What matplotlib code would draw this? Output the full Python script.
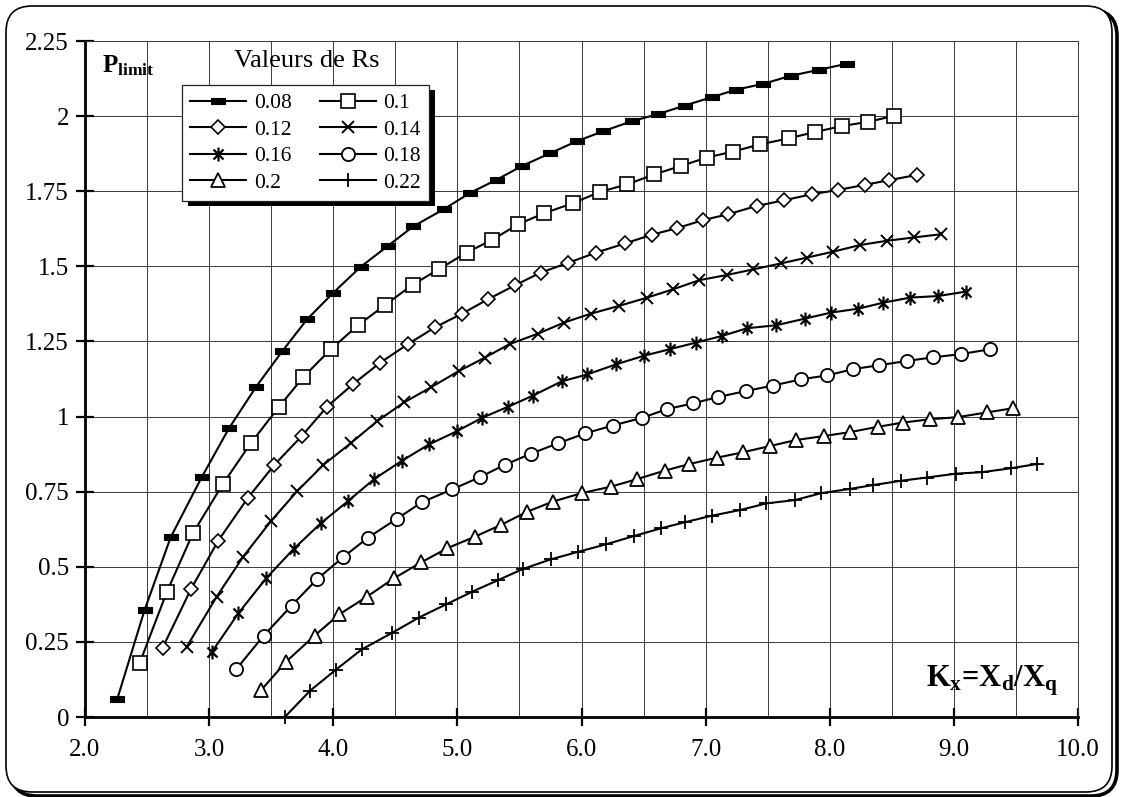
import numpy as np
import matplotlib
matplotlib.use("Agg")
import matplotlib.pyplot as plt
from matplotlib.patches import FancyBboxPatch, Rectangle
from matplotlib.path import Path
from matplotlib.transforms import IdentityTransform
from matplotlib.ticker import FixedLocator, FixedFormatter, MultipleLocator

plt.rcParams['font.family'] = 'Liberation Serif'
plt.rcParams['mathtext.fontset'] = 'custom'
plt.rcParams['mathtext.rm'] = 'Liberation Serif'
plt.rcParams['mathtext.bf'] = 'Liberation Serif:bold'
plt.rcParams['mathtext.it'] = 'Liberation Serif:italic'

# ---- data: P_limit versus Kx = Xd/Xq for several stator resistances Rs ----
rs_labels = ['0.08', '0.1', '0.12', '0.14', '0.16', '0.18', '0.2', '0.22']

kx_008 = [2.26, 2.48, 2.69, 2.94, 3.16, 3.38, 3.59, 3.79, 4.00, 4.22, 4.44, 4.645, 4.89, 5.10,
          5.32, 5.52, 5.75, 5.96, 6.17, 6.405, 6.62, 6.83, 7.05, 7.245, 7.46, 7.685, 7.91, 8.135]
p_008 = [0.06, 0.356, 0.598, 0.798, 0.961, 1.10, 1.218, 1.324, 1.412, 1.498, 1.568, 1.633, 1.690, 1.744,
         1.789, 1.834, 1.877, 1.916, 1.949, 1.983, 2.007, 2.035, 2.063, 2.088, 2.107, 2.134, 2.154, 2.174]

kx_010 = [2.44, 2.66, 2.87, 3.11, 3.335, 3.56, 3.76, 3.98, 4.20, 4.42, 4.64, 4.85, 5.075, 5.28, 5.49,
          5.70, 5.93, 6.15, 6.37, 6.585, 6.80, 7.01, 7.22, 7.44, 7.67, 7.88, 8.10, 8.31, 8.52]
p_010 = [0.179, 0.417, 0.612, 0.775, 0.911, 1.031, 1.132, 1.224, 1.304, 1.372, 1.439, 1.490, 1.546, 1.588, 1.640,
         1.677, 1.710, 1.748, 1.773, 1.806, 1.834, 1.862, 1.882, 1.906, 1.926, 1.947, 1.967, 1.981, 2.001]

kx_012 = [2.626, 2.854, 3.074, 3.31, 3.525, 3.746, 3.95, 4.16, 4.377, 4.605, 4.82, 5.04, 5.245, 5.465, 5.67,
          5.895, 6.12, 6.35, 6.565, 6.77, 6.98, 7.18, 7.41, 7.635, 7.855, 8.065, 8.28, 8.48, 8.70]
p_012 = [0.231, 0.426, 0.587, 0.728, 0.839, 0.935, 1.033, 1.108, 1.179, 1.242, 1.297, 1.343, 1.390, 1.437, 1.479,
         1.512, 1.546, 1.576, 1.605, 1.627, 1.654, 1.673, 1.701, 1.720, 1.740, 1.754, 1.771, 1.787, 1.804]

kx_014 = [2.82, 3.06, 3.275, 3.50, 3.71, 3.92, 4.14, 4.355, 4.57, 4.79, 5.01, 5.22, 5.42, 5.65, 5.86,
          6.08, 6.30, 6.53, 6.74, 6.95, 7.17, 7.385, 7.61, 7.815, 8.03, 8.245, 8.46, 8.675, 8.90]
p_014 = [0.234, 0.400, 0.534, 0.653, 0.752, 0.839, 0.911, 0.985, 1.047, 1.098, 1.151, 1.196, 1.241, 1.276, 1.313,
         1.343, 1.368, 1.396, 1.424, 1.454, 1.471, 1.490, 1.510, 1.529, 1.549, 1.571, 1.585, 1.596, 1.607]

kx_016 = [3.02, 3.235, 3.46, 3.68, 3.90, 4.12, 4.33, 4.55, 4.77, 4.995, 5.20, 5.41, 5.61, 5.84, 6.045,
          6.28, 6.50, 6.71, 6.92, 7.13, 7.335, 7.57, 7.80, 8.01, 8.23, 8.43, 8.65, 8.87, 9.10]
p_016 = [0.215, 0.345, 0.462, 0.559, 0.645, 0.719, 0.792, 0.852, 0.907, 0.951, 0.996, 1.033, 1.070, 1.117, 1.140,
         1.174, 1.202, 1.224, 1.246, 1.268, 1.294, 1.304, 1.326, 1.346, 1.359, 1.379, 1.396, 1.401, 1.416]

kx_018 = [3.22, 3.44, 3.665, 3.87, 4.08, 4.28, 4.51, 4.715, 4.96, 5.18, 5.38, 5.59, 5.81, 6.03, 6.25,
          6.49, 6.69, 6.90, 7.10, 7.325, 7.54, 7.77, 7.98, 8.19, 8.40, 8.62, 8.83, 9.06, 9.29]
p_018 = [0.160, 0.271, 0.371, 0.459, 0.532, 0.597, 0.659, 0.715, 0.758, 0.798, 0.839, 0.876, 0.911, 0.944, 0.970,
         0.996, 1.025, 1.044, 1.065, 1.085, 1.103, 1.124, 1.137, 1.158, 1.171, 1.185, 1.197, 1.208, 1.224]

kx_020 = [3.42, 3.62, 3.85, 4.05, 4.27, 4.49, 4.71, 4.92, 5.14, 5.35, 5.56, 5.77, 6.00, 6.24, 6.45,
          6.67, 6.87, 7.09, 7.30, 7.52, 7.73, 7.95, 8.16, 8.39, 8.59, 8.81, 9.03, 9.27, 9.48]
p_020 = [0.090, 0.184, 0.271, 0.342, 0.400, 0.462, 0.515, 0.562, 0.600, 0.639, 0.683, 0.717, 0.745, 0.767, 0.792,
         0.820, 0.842, 0.863, 0.881, 0.902, 0.922, 0.935, 0.948, 0.966, 0.980, 0.991, 0.998, 1.014, 1.028]

kx_022 = [3.61, 3.815, 4.02, 4.23, 4.47, 4.69, 4.91, 5.12, 5.33, 5.53, 5.755, 5.975, 6.20, 6.42, 6.64,
          6.83, 7.05, 7.28, 7.49, 7.72, 7.93, 8.16, 8.35, 8.57, 8.78, 9.02, 9.23, 9.46, 9.67]
p_022 = [0.0, 0.088, 0.157, 0.225, 0.279, 0.331, 0.375, 0.417, 0.456, 0.493, 0.525, 0.550, 0.575, 0.602, 0.628,
         0.648, 0.670, 0.689, 0.711, 0.722, 0.745, 0.759, 0.772, 0.786, 0.797, 0.810, 0.815, 0.828, 0.842]

x_tick_values = [2.0, 3.0, 4.0, 5.0, 6.0, 7.0, 8.0, 9.0, 10.0]
x_tick_labels = ['2.0', '3.0', '4.0', '5.0', '6.0', '7.0', '8.0', '9.0', '10.0']
y_tick_values = [0, 0.25, 0.5, 0.75, 1.0, 1.25, 1.5, 1.75, 2.0, 2.25]
y_tick_labels = ['0', '0.25', '0.5', '0.75', '1', '1.25', '1.5', '1.75', '2', '2.25']

# ---- marker shapes ----
bar_marker = [(-1.0, -0.42), (1.0, -0.42), (1.0, 0.42), (-1.0, 0.42), (-1.0, -0.42)]
star_marker = Path([(0, -1), (0, 1), (-0.72, -0.72), (0.72, 0.72), (-0.72, 0.72), (0.72, -0.72)],
                   [Path.MOVETO, Path.LINETO, Path.MOVETO, Path.LINETO, Path.MOVETO, Path.LINETO])

series = [
    (kx_008, p_008, dict(marker=bar_marker, ms=9.5, mfc='k', mec='k', mew=0.8)),
    (kx_010, p_010, dict(marker='s', ms=9.5, mfc='white', mec='k', mew=1.2)),
    (kx_012, p_012, dict(marker='D', ms=6.8, mfc='white', mec='k', mew=1.2)),
    (kx_014, p_014, dict(marker='x', ms=9, mfc='none', mec='k', mew=1.4)),
    (kx_016, p_016, dict(marker=star_marker, ms=10, mfc='none', mec='k', mew=1.6)),
    (kx_018, p_018, dict(marker='o', ms=9.5, mfc='white', mec='k', mew=1.3)),
    (kx_020, p_020, dict(marker='^', ms=9.5, mfc='white', mec='k', mew=1.3)),
    (kx_022, p_022, dict(marker='+', ms=9.5, mfc='none', mec='k', mew=1.3)),
]

W, H = 1124, 797
fig = plt.figure(figsize=(W / 100, H / 100), dpi=100)
fig.patch.set_facecolor('white')

# rounded chart frame with an offset shadow outline
shadow = FancyBboxPatch((11, 1), 1106, 786, boxstyle='round,pad=0,rounding_size=26',
                        transform=IdentityTransform(), fc='white', ec='k', lw=2.6, zorder=-3)
frame = FancyBboxPatch((6, 5), 1106, 786, boxstyle='round,pad=0,rounding_size=26',
                       transform=IdentityTransform(), fc='white', ec='k', lw=1.2, zorder=-2)
fig.add_artist(shadow)
fig.add_artist(frame)

ax = fig.add_axes([85 / W, 1 - 717 / H, 993 / W, 676 / H])
ax.set_facecolor('none')

handles = []
for (xs, ys, style), lab in zip(series, rs_labels):
    h, = ax.plot(xs, ys, color='k', lw=1.5, label=lab, clip_on=False, zorder=3, **style)
    handles.append(h)

ax.set_xlim(2.0, 10.0)
ax.set_ylim(0, 2.25)
ax.xaxis.set_major_locator(FixedLocator(x_tick_values))
ax.xaxis.set_major_formatter(FixedFormatter(x_tick_labels))
ax.xaxis.set_minor_locator(MultipleLocator(0.5))
ax.yaxis.set_major_locator(FixedLocator(y_tick_values))
ax.yaxis.set_major_formatter(FixedFormatter(y_tick_labels))

ax.grid(which='both', color='#3a3a3a', lw=0.7)
ax.set_axisbelow(True)
ax.tick_params(which='major', direction='inout', length=13, width=1.6, labelsize=18,
               colors='k', top=False, right=False)
ax.tick_params(axis='x', which='major', pad=9)
ax.tick_params(axis='y', which='major', pad=5)
ax.tick_params(which='minor', length=0)
for side in ('left', 'bottom'):
    ax.spines[side].set_linewidth(2.0)
for side in ('top', 'right'):
    ax.spines[side].set_linewidth(0.7)
    ax.spines[side].set_color('#3a3a3a')

# legend: two columns, filled row by row
order = [0, 2, 4, 6, 1, 3, 5, 7]
leg = ax.legend([handles[i] for i in order], [rs_labels[i] for i in order], ncol=2,
                loc='upper left', bbox_to_anchor=(0.0977, 0.935), borderaxespad=0,
                fontsize=15.5, frameon=True, fancybox=False, framealpha=1,
                edgecolor='#222222', handlelength=2.6, handletextpad=0.35,
                columnspacing=1.3, labelspacing=0.3, borderpad=0.38)
leg.get_frame().set_linewidth(0.9)
leg.set_zorder(6)

ax.text(0.2236, 0.9615, 'Valeurs de Rs', transform=ax.transAxes, ha='center',
        va='baseline', fontsize=19)
ax.text(0.0171, 0.953, r'$\mathbf{P}_{\mathbf{limit}}$', transform=ax.transAxes,
        ha='left', va='baseline', fontsize=18)
ax.text(0.980, 0.0444,
        r'$\mathbf{K}_{\mathbf{x}}\hspace{-0.2}\mathbf{=}\hspace{-0.2}\mathbf{X}_{\mathbf{d}}\mathbf{/X}_{\mathbf{q}}$',
        transform=ax.transAxes, ha='right', va='baseline', fontsize=22)

# solid drop shadow behind the legend box
fig.canvas.draw()
bb = leg.get_window_extent()
ax.add_artist(Rectangle((bb.x0 + 6, bb.y0 - 5), bb.width, bb.height, transform=IdentityTransform(),
                        fc='k', ec='none', zorder=5.5, clip_on=False))

fig.savefig('out.png', dpi=100)
